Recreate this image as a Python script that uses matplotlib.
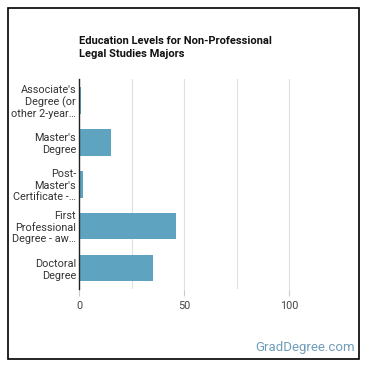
import matplotlib.pyplot as plt
from matplotlib.patches import Rectangle

plt.rcParams['font.family'] = ['Roboto', 'DejaVu Sans']

categorias = [
    "Associate's\nDegree (or\nother 2-year…",
    "Master's\nDegree",
    "Post-\nMaster's\nCertificate -…",
    "First\nProfessional\nDegree - aw…",
    "Doctoral\nDegree",
]
valores = [1, 15, 2, 46, 35]
ticks_x = [0, 50, 100]
grid_x = [25, 50, 75, 100]

fig = plt.figure(figsize=(3.7, 3.7), dpi=100)
ax = fig.add_axes([0.2135, 0.219, 0.71, 0.567])

pos = list(range(len(categorias)))
ax.barh(pos, valores, height=0.64, color='#5ea4c1', zorder=2)
ax.set_ylim(len(categorias) - 0.5, -0.5)
ax.set_xlim(0, 125)

for g in grid_x:
    ax.axvline(g, color='#e0e0e0', linewidth=0.8, zorder=1)

ax.set_yticks(pos)
ax.set_yticklabels(categorias, fontsize=7.8, color='#333333', linespacing=1.2)
ax.tick_params(axis='y', length=0, pad=2)
ax.set_xticks(ticks_x)
ax.set_xticklabels([str(t) for t in ticks_x], fontsize=7.8, color='#444444')
ax.tick_params(axis='x', length=5, color='#cccccc', pad=4)

for s in ['top', 'right', 'bottom']:
    ax.spines[s].set_visible(False)
ax.spines['left'].set_color('#222222')
ax.spines['left'].set_linewidth(1)

fig.text(79 / 370, 1 - 36 / 370, "Education Levels for Non-Professional\nLegal Studies Majors",
         fontsize=8, fontweight='bold', color='#111111', ha='left', va='top', linespacing=1.35)

fig.text(355 / 370, 1 - 348 / 370, "GradDegree.com", fontsize=9.5, color='#6e9cb9',
         ha='right', va='center')

fig.patches.append(Rectangle((8 / 370, 1 - 359 / 370), 351 / 370, 351 / 370,
                             transform=fig.transFigure, fill=False,
                             edgecolor='black', linewidth=1.2))

fig.savefig('out.png', dpi=100)
